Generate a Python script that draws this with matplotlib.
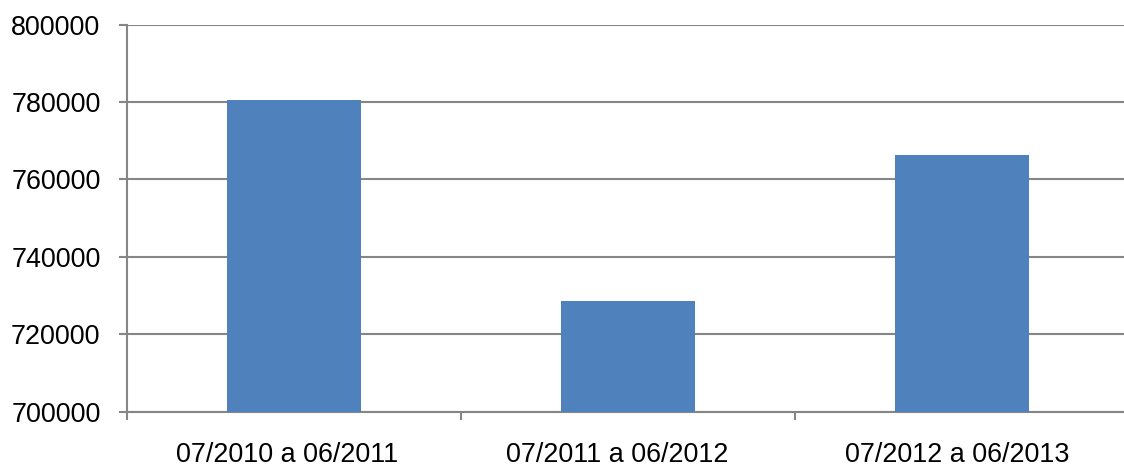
import matplotlib
matplotlib.use("Agg")
import matplotlib.pyplot as plt
from matplotlib.ticker import FixedLocator
from matplotlib.transforms import ScaledTranslation

categories = ["07/2010 a 06/2011", "07/2011 a 06/2012", "07/2012 a 06/2013"]
values = [780500, 728500, 766200]
yticks = [700000, 720000, 740000, 760000, 780000, 800000]

plt.rcParams['font.family'] = ['Liberation Sans', 'DejaVu Sans']

fig = plt.figure(figsize=(11.24, 4.67), dpi=100)
ax = fig.add_axes([127/1124, 55.5/467, 997/1124, 387/467])

x = list(range(len(categories)))
ax.bar(x, values, width=0.4, color='#4F81BD', zorder=3)

ax.set_ylim(700000, 800000)
ax.set_xlim(-0.5, 2.485)
ax.set_yticks(yticks)
ax.set_yticklabels([str(v) for v in yticks])
ax.yaxis.grid(True, color='#868686', linewidth=1.5, zorder=0)
ax.set_axisbelow(True)

ax.set_xticks(x)
ax.set_xticklabels(categories)
ax.xaxis.set_minor_locator(FixedLocator([-0.5, 0.5, 1.5, 2.5]))
ax.tick_params(axis='x', which='major', length=0, pad=22, labelsize=19.4)
ax.tick_params(axis='x', which='minor', length=6, width=1.5, color='#868686', direction='out')
ax.tick_params(axis='y', length=6, width=1.5, color='#868686', direction='out', pad=13, labelsize=19.4)

# small horizontal label offsets as rendered in the original
for lbl, dx in zip(ax.get_xticklabels(), [-7, -11, -5]):
    lbl.set_transform(lbl.get_transform() + ScaledTranslation(dx / 100, 0, fig.dpi_scale_trans))

for s in ['top', 'right']:
    ax.spines[s].set_visible(False)
for s in ['left', 'bottom']:
    ax.spines[s].set_color('#868686')
    ax.spines[s].set_linewidth(1.5)

fig.savefig('out.png', dpi=100)
